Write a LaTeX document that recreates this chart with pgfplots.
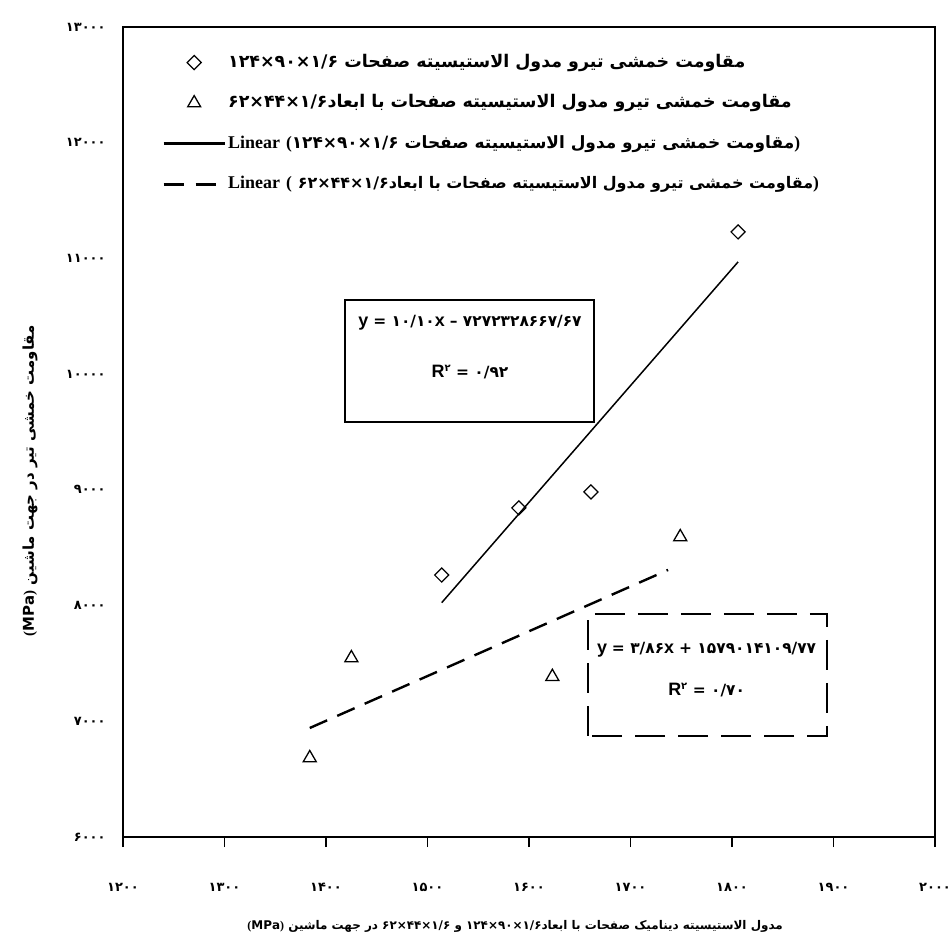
\documentclass[border=0pt]{standalone}
\usepackage{fontspec}
\usepackage{pgfplots}
\pgfplotsset{compat=1.18}
\setmainfont{Liberation Serif}
\newfontfamily\fa[Script=Arabic]{DejaVu Sans}
\newfontfamily\lsans{Liberation Sans}
\TeXXeTstate=1

% dimension groups (the Arabic shaping shows the runs in reverse order)
\newcommand{\dimA}{\beginL۱/۶×۹۰×۱۲۴\endL}
\newcommand{\dimB}{\beginL۱/۶×۴۴×۶۲\endL}
\newcommand{\legfont}{\fa\bfseries\fontsize{17.5}{20}\selectfont}
\newcommand{\lin}{{\rmfamily\bfseries\fontsize{18}{18}\selectfont Linear}}
\newcommand{\lp}{{\rmfamily(}}
\newcommand{\rp}{{\rmfamily)}}
\newcommand{\dg}{\fa\fontsize{15.5}{16}\selectfont}

\begin{document}
\begin{tikzpicture}[x=1bp,y=1bp]
\useasboundingbox (0,0) rectangle (949,942);
\begin{axis}[
  at={(123bp,105bp)}, anchor=south west,
  scale only axis, width=812bp, height=810bp,
  xmin=1200, xmax=2000, ymin=6000, ymax=13000,
  scaled x ticks=false, scaled y ticks=false,
  axis line style={line width=2.5bp},
  xtick={1200,1300,...,2000},
  xticklabels={۱۲۰۰,۱۳۰۰,۱۴۰۰,۱۵۰۰,۱۶۰۰,۱۷۰۰,۱۸۰۰,۱۹۰۰,۲۰۰۰},
  ytick={6000,7000,...,13000},
  yticklabels={۶۰۰۰,۷۰۰۰,۸۰۰۰,۹۰۰۰,۱۰۰۰۰,۱۱۰۰۰,۱۲۰۰۰,۱۳۰۰۰},
  xtick pos=lower, ytick pos=left,
  tick align=outside,
  major tick length=10bp,
  x tick style={line width=1.5bp, black},
  y tick style={draw=none},
  tick label style={font=\fa\bfseries\fontsize{13}{14}\selectfont},
  xticklabel style={anchor=center, yshift=-40bp},
  yticklabel style={anchor=east, xshift=-4bp},
  xlabel={\beginR مدول الاستیسیته دینامیک صفحات با ابعاد\dimA{} و \dimB{} در جهت ماشین \beginL\lp\textbf{MPa}\rp\endL\endR},
  ylabel={\beginR مقاومت خمشی تیر در جهت ماشین \beginL\lp\textbf{MPa}\rp\endL\endR},
  xlabel style={at={(axis description cs:0.483,-0.111)}, anchor=center, font=\fa\bfseries\fontsize{12}{15}\selectfont},
  ylabel style={at={(axis description cs:-0.1145,0.44)}, anchor=center, font=\fa\bfseries\fontsize{15}{17}\selectfont},
  legend style={draw=none, fill=none, at={(0.048,0.9705)}, anchor=north west,
    inner sep=0pt, row sep=17.5bp, font=\legfont,
    nodes={inner sep=2bp, text height=14bp, text depth=5bp}},
  legend cell align=left,
  legend image code/.code={\draw[mark repeat=2,mark phase=2,#1] plot coordinates {(0bp,0bp) (30.5bp,0bp) (61bp,0bp)};},
]
\addlegendimage{only marks, mark=square, mark size=5bp, mark options={rotate=45, line width=1.2bp}}
\addlegendentry{\beginR مقاومت خمشی تیرو مدول الاستیسیته صفحات \dimA\endR}
\addlegendimage{only marks, mark=triangle, mark size=7.5bp, mark options={line width=1.3bp}}
\addlegendentry{\beginR مقاومت خمشی تیرو مدول الاستیسیته صفحات با ابعاد\dimB\endR}
\addlegendimage{line width=3bp}
\addlegendentry{\lin{} \lp{\fontsize{17}{20}\selectfont\beginR مقاومت خمشی تیرو مدول الاستیسیته صفحات \dimA\endR}\rp}
\addlegendimage{line width=3bp, dash pattern=on 20bp off 12bp}
\addlegendentry{\lin{} \lp{} {\fontsize{16}{20}\selectfont\beginR مقاومت خمشی تیرو مدول الاستیسیته صفحات با ابعاد\dimB\endR}\rp}

% diamonds: 124x90x1.6 boards
\addplot[only marks, mark=square, mark size=5bp, mark options={rotate=45, line width=1.2bp}, forget plot]
  coordinates {(1514,8264) (1590,8844) (1661,8982) (1806,11229)};
% triangles: 62x44x1.6 boards
\addplot[only marks, mark=triangle, mark size=7.5bp, mark options={line width=1.3bp}, forget plot]
  coordinates {(1384,6683) (1425,7547) (1623,7385) (1749,8593)};
% trend lines
\addplot[line width=1.5bp, forget plot] coordinates {(1514,8025) (1806,10970)};
\addplot[line width=2.4bp, dash pattern=on 19bp off 11bp, forget plot] coordinates {(1384,6942) (1737,8308)};

% equation boxes
\draw[line width=1.2bp] (axis cs:1418.7,9587) rectangle (axis cs:1664,10641);
\node[anchor=center] at (axis cs:1541.9,10442)
  {\lsans\bfseries\fontsize{18}{18}\selectfont y {\dg = ۱۰/۱۰}x {\dg – ۷۲۷۲۳۲۸۶۶۷/۶۷}};
\node[anchor=center] at (axis cs:1541.9,10019)
  {\lsans\bfseries\fontsize{18}{18}\selectfont R\textsuperscript{\fa\fontsize{10}{10}\selectfont ۲} {\dg = ۰/۹۲}};
\draw[line width=1.5bp, dash pattern=on 30bp off 13bp] (axis cs:1658,6873) rectangle (axis cs:1893.6,7927);
\node[anchor=center] at (axis cs:1775,7616)
  {\lsans\bfseries\fontsize{18}{18}\selectfont y {\dg = ۳/۸۶}x {\dg + ۱۵۷۹۰۱۴۱۰۹/۷۷}};
\node[anchor=center] at (axis cs:1775,7271)
  {\lsans\bfseries\fontsize{18}{18}\selectfont R\textsuperscript{\fa\fontsize{10}{10}\selectfont ۲} {\dg = ۰/۷۰}};
\end{axis}
\end{tikzpicture}
\end{document}
